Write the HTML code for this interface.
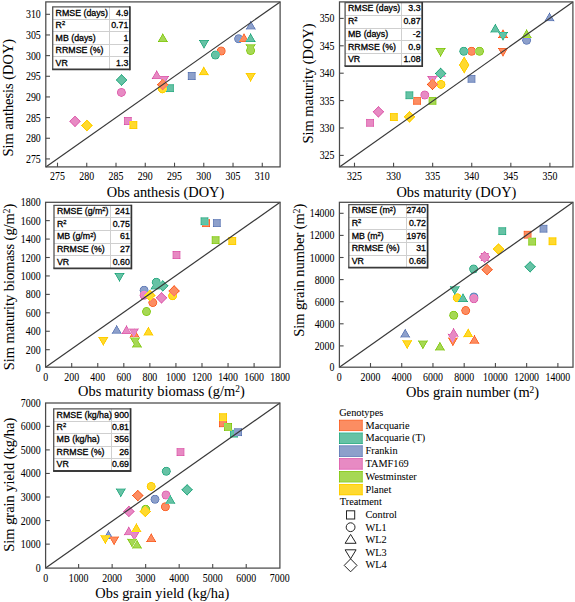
<!DOCTYPE html>
<html><head><meta charset="utf-8"><style>
html,body{margin:0;padding:0;background:#fff;}
svg{display:block;}
.tk{font-family:"Liberation Serif",serif;font-size:10.3px;fill:#000;stroke:#000;stroke-width:0.05px;}
.ti{font-family:"Liberation Serif",serif;font-size:14.4px;fill:#000;stroke:#000;stroke-width:0.05px;}
.tb{font-family:"Liberation Sans",sans-serif;font-size:8.8px;font-weight:normal;fill:#000;stroke:#000;stroke-width:0.3px;}
.lg{font-family:"Liberation Serif",serif;font-size:10.3px;fill:#000;stroke:#000;stroke-width:0.05px;}
</style></head><body>
<svg width="575" height="602" viewBox="0 0 575 602">
<defs><filter id="sh" x="0" y="0" width="575" height="602" filterUnits="userSpaceOnUse" color-interpolation-filters="sRGB"><feGaussianBlur stdDeviation="0.45" result="b"/><feConvolveMatrix in="b" order="3" kernelMatrix="0 -0.3 0 -0.3 2.200 -0.3 0 -0.3 0" edgeMode="duplicate" preserveAlpha="true"/></filter></defs>
<g filter="url(#sh)"><rect width="575" height="602" fill="#fff"/><rect x="165.90" y="84.20" width="8.00" height="8.00" fill="#66c2a5"/>
<rect x="187.70" y="72.00" width="8.00" height="8.00" fill="#8da0cb"/>
<rect x="123.80" y="117.00" width="8.00" height="8.00" fill="#e78ac3"/>
<rect x="129.40" y="121.10" width="8.00" height="8.00" fill="#ffd92f"/>
<circle cx="221.20" cy="51.00" r="4.5" fill="#fc8d62"/>
<circle cx="215.40" cy="55.00" r="4.5" fill="#66c2a5"/>
<circle cx="238.60" cy="38.80" r="4.5" fill="#8da0cb"/>
<circle cx="121.40" cy="92.40" r="4.5" fill="#e78ac3"/>
<circle cx="250.60" cy="50.50" r="4.5" fill="#a6d854"/>
<circle cx="162.40" cy="88.90" r="4.5" fill="#ffd92f"/>
<polygon points="244.00,32.90 249.20,41.90 238.80,41.90" fill="#fc8d62"/>
<polygon points="250.60,32.90 255.80,41.90 245.40,41.90" fill="#66c2a5"/>
<polygon points="250.80,20.50 256.00,29.50 245.60,29.50" fill="#8da0cb"/>
<polygon points="156.70,70.10 161.90,79.10 151.50,79.10" fill="#e78ac3"/>
<polygon points="162.80,33.00 168.00,42.00 157.60,42.00" fill="#a6d854"/>
<polygon points="203.80,66.20 209.00,75.20 198.60,75.20" fill="#ffd92f"/>
<polygon points="198.80,40.00 209.20,40.00 204.00,49.00" fill="#66c2a5"/>
<polygon points="158.80,76.00 169.20,76.00 164.00,85.00" fill="#e78ac3"/>
<polygon points="245.40,44.20 255.80,44.20 250.60,53.20" fill="#a6d854"/>
<polygon points="245.40,73.10 255.80,73.10 250.60,82.10" fill="#ffd92f"/>
<polygon points="162.70,78.80 168.60,84.70 162.70,90.60 156.80,84.70" fill="#fc8d62"/>
<polygon points="121.60,74.10 127.50,80.00 121.60,85.90 115.70,80.00" fill="#66c2a5"/>
<polygon points="75.00,115.40 80.90,121.30 75.00,127.20 69.10,121.30" fill="#e78ac3"/>
<polygon points="86.90,119.60 92.80,125.50 86.90,131.40 81.00,125.50" fill="#ffd92f"/>
<rect x="413.10" y="96.80" width="8.00" height="8.00" fill="#fc8d62"/>
<rect x="405.40" y="91.30" width="8.00" height="8.00" fill="#66c2a5"/>
<rect x="467.50" y="74.80" width="8.00" height="8.00" fill="#8da0cb"/>
<rect x="366.10" y="118.80" width="8.00" height="8.00" fill="#e78ac3"/>
<rect x="428.50" y="96.80" width="8.00" height="8.00" fill="#a6d854"/>
<rect x="389.80" y="113.10" width="8.00" height="8.00" fill="#ffd92f"/>
<circle cx="471.60" cy="51.20" r="4.5" fill="#fc8d62"/>
<circle cx="463.80" cy="51.20" r="4.5" fill="#66c2a5"/>
<circle cx="526.60" cy="40.30" r="4.5" fill="#8da0cb"/>
<circle cx="424.80" cy="95.00" r="4.5" fill="#e78ac3"/>
<circle cx="479.50" cy="51.20" r="4.5" fill="#a6d854"/>
<circle cx="441.00" cy="84.40" r="4.5" fill="#ffd92f"/>
<polygon points="503.00,29.00 508.20,38.00 497.80,38.00" fill="#fc8d62"/>
<polygon points="495.30,23.50 500.50,32.50 490.10,32.50" fill="#66c2a5"/>
<polygon points="549.50,12.20 554.70,21.20 544.30,21.20" fill="#8da0cb"/>
<polygon points="440.60,67.80 445.80,76.80 435.40,76.80" fill="#e78ac3"/>
<polygon points="526.60,29.00 531.80,38.00 521.40,38.00" fill="#a6d854"/>
<polygon points="497.80,48.10 508.20,48.10 503.00,57.10" fill="#fc8d62"/>
<polygon points="497.80,32.00 508.20,32.00 503.00,41.00" fill="#66c2a5"/>
<polygon points="427.10,76.00 437.50,76.00 432.30,85.00" fill="#e78ac3"/>
<polygon points="435.40,48.00 445.80,48.00 440.60,57.00" fill="#a6d854"/>
<polygon points="432.50,78.50 438.40,84.40 432.50,90.30 426.60,84.40" fill="#fc8d62"/>
<polygon points="440.60,67.50 446.50,73.40 440.60,79.30 434.70,73.40" fill="#66c2a5"/>
<polygon points="378.40,105.90 384.30,111.80 378.40,117.70 372.50,111.80" fill="#e78ac3"/>
<polygon points="409.50,110.90 415.40,116.80 409.50,122.70 403.60,116.80" fill="#ffd92f"/>
<polygon points="464.20,56.15 469.50,65.00 464.20,73.85 458.90,65.00" fill="#ffd92f"/>
<rect x="202.10" y="219.20" width="8.00" height="8.00" fill="#fc8d62"/>
<rect x="200.50" y="217.30" width="8.00" height="8.00" fill="#66c2a5"/>
<rect x="212.80" y="219.10" width="8.00" height="8.00" fill="#8da0cb"/>
<rect x="172.50" y="251.00" width="8.00" height="8.00" fill="#e78ac3"/>
<rect x="211.60" y="236.20" width="8.00" height="8.00" fill="#a6d854"/>
<rect x="228.30" y="237.00" width="8.00" height="8.00" fill="#ffd92f"/>
<circle cx="152.80" cy="302.60" r="4.5" fill="#fc8d62"/>
<circle cx="156.30" cy="282.20" r="4.5" fill="#66c2a5"/>
<circle cx="144.10" cy="290.20" r="4.5" fill="#8da0cb"/>
<circle cx="144.10" cy="295.20" r="4.5" fill="#e78ac3"/>
<circle cx="146.50" cy="311.60" r="4.5" fill="#a6d854"/>
<circle cx="172.60" cy="295.70" r="4.5" fill="#ffd92f"/>
<polygon points="134.50,328.50 139.70,337.50 129.30,337.50" fill="#fc8d62"/>
<polygon points="155.40,280.50 160.60,289.50 150.20,289.50" fill="#66c2a5"/>
<polygon points="116.70,324.80 121.90,333.80 111.50,333.80" fill="#8da0cb"/>
<polygon points="126.50,324.90 131.70,333.90 121.30,333.90" fill="#e78ac3"/>
<polygon points="137.00,338.50 142.20,347.50 131.80,347.50" fill="#a6d854"/>
<polygon points="148.40,326.50 153.60,335.50 143.20,335.50" fill="#ffd92f"/>
<polygon points="114.30,273.00 124.70,273.00 119.50,282.00" fill="#66c2a5"/>
<polygon points="128.60,328.50 139.00,328.50 133.80,337.50" fill="#e78ac3"/>
<polygon points="129.80,337.50 140.20,337.50 135.00,346.50" fill="#a6d854"/>
<polygon points="98.10,337.00 108.50,337.00 103.30,346.00" fill="#ffd92f"/>
<polygon points="174.10,285.00 180.00,290.90 174.10,296.80 168.20,290.90" fill="#fc8d62"/>
<polygon points="162.80,279.90 168.70,285.80 162.80,291.70 156.90,285.80" fill="#66c2a5"/>
<polygon points="161.50,291.90 167.40,297.80 161.50,303.70 155.60,297.80" fill="#e78ac3"/>
<polygon points="149.80,289.50 155.70,295.40 149.80,301.30 143.90,295.40" fill="#ffd92f"/>
<rect x="523.60" y="230.70" width="8.00" height="8.00" fill="#fc8d62"/>
<rect x="498.30" y="227.20" width="8.00" height="8.00" fill="#66c2a5"/>
<rect x="539.50" y="224.70" width="8.00" height="8.00" fill="#8da0cb"/>
<rect x="480.70" y="253.00" width="8.00" height="8.00" fill="#e78ac3"/>
<rect x="528.20" y="237.60" width="8.00" height="8.00" fill="#a6d854"/>
<rect x="548.50" y="237.30" width="8.00" height="8.00" fill="#ffd92f"/>
<circle cx="465.70" cy="310.60" r="4.5" fill="#fc8d62"/>
<circle cx="473.60" cy="269.00" r="4.5" fill="#66c2a5"/>
<circle cx="473.90" cy="297.00" r="4.5" fill="#8da0cb"/>
<circle cx="473.90" cy="298.70" r="4.5" fill="#e78ac3"/>
<circle cx="453.70" cy="315.20" r="4.5" fill="#a6d854"/>
<circle cx="457.20" cy="297.70" r="4.5" fill="#ffd92f"/>
<polygon points="474.40,334.70 479.60,343.70 469.20,343.70" fill="#fc8d62"/>
<polygon points="463.00,293.00 468.20,302.00 457.80,302.00" fill="#66c2a5"/>
<polygon points="405.20,328.50 410.40,337.50 400.00,337.50" fill="#8da0cb"/>
<polygon points="453.60,327.80 458.80,336.80 448.40,336.80" fill="#e78ac3"/>
<polygon points="439.90,341.50 445.10,350.50 434.70,350.50" fill="#a6d854"/>
<polygon points="468.20,328.20 473.40,337.20 463.00,337.20" fill="#ffd92f"/>
<polygon points="447.70,337.50 458.10,337.50 452.90,346.50" fill="#fc8d62"/>
<polygon points="449.60,286.20 460.00,286.20 454.80,295.20" fill="#66c2a5"/>
<polygon points="447.40,333.70 457.80,333.70 452.60,342.70" fill="#e78ac3"/>
<polygon points="417.70,340.50 428.10,340.50 422.90,349.50" fill="#a6d854"/>
<polygon points="402.00,340.20 412.40,340.20 407.20,349.20" fill="#ffd92f"/>
<polygon points="487.10,263.80 493.00,269.70 487.10,275.60 481.20,269.70" fill="#fc8d62"/>
<polygon points="530.10,260.90 536.00,266.80 530.10,272.70 524.20,266.80" fill="#66c2a5"/>
<polygon points="484.70,251.10 490.60,257.00 484.70,262.90 478.80,257.00" fill="#e78ac3"/>
<polygon points="498.50,243.20 504.40,249.10 498.50,255.00 492.60,249.10" fill="#ffd92f"/>
<rect x="219.00" y="419.30" width="8.00" height="8.00" fill="#fc8d62"/>
<rect x="229.90" y="429.60" width="8.00" height="8.00" fill="#66c2a5"/>
<rect x="234.10" y="428.20" width="8.00" height="8.00" fill="#8da0cb"/>
<rect x="176.50" y="448.10" width="8.00" height="8.00" fill="#e78ac3"/>
<rect x="224.00" y="422.90" width="8.00" height="8.00" fill="#a6d854"/>
<rect x="219.00" y="413.20" width="8.00" height="8.00" fill="#ffd92f"/>
<circle cx="165.40" cy="506.80" r="4.5" fill="#fc8d62"/>
<circle cx="166.30" cy="471.30" r="4.5" fill="#66c2a5"/>
<circle cx="155.00" cy="499.20" r="4.5" fill="#8da0cb"/>
<circle cx="166.00" cy="495.00" r="4.5" fill="#e78ac3"/>
<circle cx="145.70" cy="509.20" r="4.5" fill="#a6d854"/>
<circle cx="151.20" cy="486.40" r="4.5" fill="#ffd92f"/>
<polygon points="151.20,532.90 156.40,541.90 146.00,541.90" fill="#fc8d62"/>
<polygon points="170.30,494.70 175.50,503.70 165.10,503.70" fill="#66c2a5"/>
<polygon points="108.40,529.90 113.60,538.90 103.20,538.90" fill="#8da0cb"/>
<polygon points="128.80,526.20 134.00,535.20 123.60,535.20" fill="#e78ac3"/>
<polygon points="137.00,539.40 142.20,548.40 131.80,548.40" fill="#a6d854"/>
<polygon points="136.40,523.10 141.60,532.10 131.20,532.10" fill="#ffd92f"/>
<polygon points="108.90,536.50 119.30,536.50 114.10,545.50" fill="#fc8d62"/>
<polygon points="115.60,488.50 126.00,488.50 120.80,497.50" fill="#66c2a5"/>
<polygon points="129.10,531.90 139.50,531.90 134.30,540.90" fill="#e78ac3"/>
<polygon points="126.90,538.80 137.30,538.80 132.10,547.80" fill="#a6d854"/>
<polygon points="100.10,535.20 110.50,535.20 105.30,544.20" fill="#ffd92f"/>
<polygon points="137.80,489.70 143.70,495.60 137.80,501.50 131.90,495.60" fill="#fc8d62"/>
<polygon points="187.10,483.90 193.00,489.80 187.10,495.70 181.20,489.80" fill="#66c2a5"/>
<polygon points="128.90,505.50 134.80,511.40 128.90,517.30 123.00,511.40" fill="#e78ac3"/>
<polygon points="145.30,505.50 151.20,511.40 145.30,517.30 139.40,511.40" fill="#ffd92f"/>
<rect x="339" y="419.60" width="23.8" height="11.7" fill="#fc8d62"/>
<rect x="339" y="432.42" width="23.8" height="11.7" fill="#66c2a5"/>
<rect x="339" y="445.24" width="23.8" height="11.7" fill="#8da0cb"/>
<rect x="339" y="458.06" width="23.8" height="11.7" fill="#e78ac3"/>
<rect x="339" y="470.88" width="23.8" height="11.7" fill="#a6d854"/>
<rect x="339" y="483.70" width="23.8" height="11.7" fill="#ffd92f"/></g>
<line x1="45.8" y1="166.9" x2="280.1" y2="1.9" stroke="#383838" stroke-width="1.2"/>
<line x1="57.50" y1="166.9" x2="57.50" y2="162.70000000000002" stroke="#4a4a4a" stroke-width="1.1"/>
<text transform="translate(57.50,180.40) scale(0.96,1.15)" class="tk" text-anchor="middle">275</text>
<line x1="86.75" y1="166.9" x2="86.75" y2="162.70000000000002" stroke="#4a4a4a" stroke-width="1.1"/>
<text transform="translate(86.75,180.40) scale(0.96,1.15)" class="tk" text-anchor="middle">280</text>
<line x1="116.01" y1="166.9" x2="116.01" y2="162.70000000000002" stroke="#4a4a4a" stroke-width="1.1"/>
<text transform="translate(116.01,180.40) scale(0.96,1.15)" class="tk" text-anchor="middle">285</text>
<line x1="145.26" y1="166.9" x2="145.26" y2="162.70000000000002" stroke="#4a4a4a" stroke-width="1.1"/>
<text transform="translate(145.26,180.40) scale(0.96,1.15)" class="tk" text-anchor="middle">290</text>
<line x1="174.52" y1="166.9" x2="174.52" y2="162.70000000000002" stroke="#4a4a4a" stroke-width="1.1"/>
<text transform="translate(174.52,180.40) scale(0.96,1.15)" class="tk" text-anchor="middle">295</text>
<line x1="203.78" y1="166.9" x2="203.78" y2="162.70000000000002" stroke="#4a4a4a" stroke-width="1.1"/>
<text transform="translate(203.78,180.40) scale(0.96,1.15)" class="tk" text-anchor="middle">300</text>
<line x1="233.03" y1="166.9" x2="233.03" y2="162.70000000000002" stroke="#4a4a4a" stroke-width="1.1"/>
<text transform="translate(233.03,180.40) scale(0.96,1.15)" class="tk" text-anchor="middle">305</text>
<line x1="262.28" y1="166.9" x2="262.28" y2="162.70000000000002" stroke="#4a4a4a" stroke-width="1.1"/>
<text transform="translate(262.28,180.40) scale(0.96,1.15)" class="tk" text-anchor="middle">310</text>
<line x1="45.8" y1="158.92" x2="50.0" y2="158.92" stroke="#4a4a4a" stroke-width="1.1"/>
<text transform="translate(40.80,162.94) scale(0.96,1.15)" class="tk" text-anchor="end">275</text>
<line x1="45.8" y1="138.26" x2="50.0" y2="138.26" stroke="#4a4a4a" stroke-width="1.1"/>
<text transform="translate(40.80,142.28) scale(0.96,1.15)" class="tk" text-anchor="end">280</text>
<line x1="45.8" y1="117.60" x2="50.0" y2="117.60" stroke="#4a4a4a" stroke-width="1.1"/>
<text transform="translate(40.80,121.62) scale(0.96,1.15)" class="tk" text-anchor="end">285</text>
<line x1="45.8" y1="96.94" x2="50.0" y2="96.94" stroke="#4a4a4a" stroke-width="1.1"/>
<text transform="translate(40.80,100.96) scale(0.96,1.15)" class="tk" text-anchor="end">290</text>
<line x1="45.8" y1="76.28" x2="50.0" y2="76.28" stroke="#4a4a4a" stroke-width="1.1"/>
<text transform="translate(40.80,80.31) scale(0.96,1.15)" class="tk" text-anchor="end">295</text>
<line x1="45.8" y1="55.62" x2="50.0" y2="55.62" stroke="#4a4a4a" stroke-width="1.1"/>
<text transform="translate(40.80,59.64) scale(0.96,1.15)" class="tk" text-anchor="end">300</text>
<line x1="45.8" y1="34.96" x2="50.0" y2="34.96" stroke="#4a4a4a" stroke-width="1.1"/>
<text transform="translate(40.80,38.98) scale(0.96,1.15)" class="tk" text-anchor="end">305</text>
<line x1="45.8" y1="14.30" x2="50.0" y2="14.30" stroke="#4a4a4a" stroke-width="1.1"/>
<text transform="translate(40.80,18.32) scale(0.96,1.15)" class="tk" text-anchor="end">310</text>
<rect x="45.8" y="1.9" width="234.30" height="165.00" fill="none" stroke="#4a4a4a" stroke-width="1.25"/>
<rect x="52.70" y="6.80" width="77.20" height="62.60" fill="#fff"/>
<line x1="52.70" y1="19.50" x2="129.90" y2="19.50" stroke="#cfcfcf" stroke-width="1"/>
<line x1="52.70" y1="31.50" x2="129.90" y2="31.50" stroke="#cfcfcf" stroke-width="1"/>
<line x1="52.70" y1="44.50" x2="129.90" y2="44.50" stroke="#cfcfcf" stroke-width="1"/>
<line x1="52.70" y1="56.50" x2="129.90" y2="56.50" stroke="#cfcfcf" stroke-width="1"/>
<line x1="109.50" y1="6.80" x2="109.50" y2="69.40" stroke="#cfcfcf" stroke-width="1"/>
<line x1="52.20" y1="6.80" x2="129.90" y2="6.80" stroke="#555" stroke-width="1.2"/>
<line x1="52.70" y1="6.80" x2="52.70" y2="69.40" stroke="#555" stroke-width="1.3"/>
<line x1="129.90" y1="6.20" x2="129.90" y2="70.30" stroke="#333" stroke-width="1.7"/>
<line x1="52.10" y1="69.40" x2="129.90" y2="69.40" stroke="#3a3a3a" stroke-width="1.8"/>
<text x="55.60" y="15.56" class="tb">RMSE (days)</text>
<text x="128.30" y="15.56" class="tb" text-anchor="end">4.9</text>
<text x="55.60" y="28.08" class="tb">R<tspan dy="-2.8" font-size="5.8">2</tspan></text>
<text x="128.30" y="28.08" class="tb" text-anchor="end">0.71</text>
<text x="55.60" y="40.60" class="tb">MB (days)</text>
<text x="128.30" y="40.60" class="tb" text-anchor="end">1</text>
<text x="55.60" y="53.12" class="tb">RRMSE (%)</text>
<text x="128.30" y="53.12" class="tb" text-anchor="end">2</text>
<text x="55.60" y="65.64" class="tb">VR</text>
<text x="128.30" y="65.64" class="tb" text-anchor="end">1.3</text>
<text x="165.5" y="197.2" class="ti" text-anchor="middle">Obs anthesis (DOY)</text>
<text transform="translate(13.0,97.7) rotate(-90)" class="ti" text-anchor="middle">Sim anthesis (DOY)</text>
<line x1="339.5" y1="166.9" x2="572.9" y2="1.9" stroke="#383838" stroke-width="1.2"/>
<line x1="354.49" y1="166.9" x2="354.49" y2="162.70000000000002" stroke="#4a4a4a" stroke-width="1.1"/>
<text transform="translate(354.49,180.40) scale(0.96,1.15)" class="tk" text-anchor="middle">325</text>
<line x1="393.57" y1="166.9" x2="393.57" y2="162.70000000000002" stroke="#4a4a4a" stroke-width="1.1"/>
<text transform="translate(393.57,180.40) scale(0.96,1.15)" class="tk" text-anchor="middle">330</text>
<line x1="432.66" y1="166.9" x2="432.66" y2="162.70000000000002" stroke="#4a4a4a" stroke-width="1.1"/>
<text transform="translate(432.66,180.40) scale(0.96,1.15)" class="tk" text-anchor="middle">335</text>
<line x1="471.74" y1="166.9" x2="471.74" y2="162.70000000000002" stroke="#4a4a4a" stroke-width="1.1"/>
<text transform="translate(471.74,180.40) scale(0.96,1.15)" class="tk" text-anchor="middle">340</text>
<line x1="510.83" y1="166.9" x2="510.83" y2="162.70000000000002" stroke="#4a4a4a" stroke-width="1.1"/>
<text transform="translate(510.83,180.40) scale(0.96,1.15)" class="tk" text-anchor="middle">345</text>
<line x1="549.91" y1="166.9" x2="549.91" y2="162.70000000000002" stroke="#4a4a4a" stroke-width="1.1"/>
<text transform="translate(549.91,180.40) scale(0.96,1.15)" class="tk" text-anchor="middle">350</text>
<line x1="339.5" y1="155.40" x2="343.7" y2="155.40" stroke="#4a4a4a" stroke-width="1.1"/>
<text transform="translate(334.50,159.43) scale(0.96,1.15)" class="tk" text-anchor="end">325</text>
<line x1="339.5" y1="128.00" x2="343.7" y2="128.00" stroke="#4a4a4a" stroke-width="1.1"/>
<text transform="translate(334.50,132.03) scale(0.96,1.15)" class="tk" text-anchor="end">330</text>
<line x1="339.5" y1="100.60" x2="343.7" y2="100.60" stroke="#4a4a4a" stroke-width="1.1"/>
<text transform="translate(334.50,104.62) scale(0.96,1.15)" class="tk" text-anchor="end">335</text>
<line x1="339.5" y1="73.20" x2="343.7" y2="73.20" stroke="#4a4a4a" stroke-width="1.1"/>
<text transform="translate(334.50,77.23) scale(0.96,1.15)" class="tk" text-anchor="end">340</text>
<line x1="339.5" y1="45.80" x2="343.7" y2="45.80" stroke="#4a4a4a" stroke-width="1.1"/>
<text transform="translate(334.50,49.82) scale(0.96,1.15)" class="tk" text-anchor="end">345</text>
<line x1="339.5" y1="18.40" x2="343.7" y2="18.40" stroke="#4a4a4a" stroke-width="1.1"/>
<text transform="translate(334.50,22.42) scale(0.96,1.15)" class="tk" text-anchor="end">350</text>
<rect x="339.5" y="1.9" width="233.40" height="165.00" fill="none" stroke="#4a4a4a" stroke-width="1.25"/>
<rect x="345.10" y="2.60" width="77.10" height="63.50" fill="#fff"/>
<line x1="345.10" y1="15.50" x2="422.20" y2="15.50" stroke="#cfcfcf" stroke-width="1"/>
<line x1="345.10" y1="28.50" x2="422.20" y2="28.50" stroke="#cfcfcf" stroke-width="1"/>
<line x1="345.10" y1="40.50" x2="422.20" y2="40.50" stroke="#cfcfcf" stroke-width="1"/>
<line x1="345.10" y1="53.50" x2="422.20" y2="53.50" stroke="#cfcfcf" stroke-width="1"/>
<line x1="401.50" y1="2.60" x2="401.50" y2="66.10" stroke="#cfcfcf" stroke-width="1"/>
<line x1="344.60" y1="2.60" x2="422.20" y2="2.60" stroke="#555" stroke-width="1.2"/>
<line x1="345.10" y1="2.60" x2="345.10" y2="66.10" stroke="#555" stroke-width="1.3"/>
<line x1="422.20" y1="2.00" x2="422.20" y2="67.00" stroke="#333" stroke-width="1.7"/>
<line x1="344.50" y1="66.10" x2="422.20" y2="66.10" stroke="#3a3a3a" stroke-width="1.8"/>
<text x="348.00" y="11.45" class="tb">RMSE (days)</text>
<text x="420.60" y="11.45" class="tb" text-anchor="end">3.3</text>
<text x="348.00" y="24.15" class="tb">R<tspan dy="-2.8" font-size="5.8">2</tspan></text>
<text x="420.60" y="24.15" class="tb" text-anchor="end">0.87</text>
<text x="348.00" y="36.85" class="tb">MB (days)</text>
<text x="420.60" y="36.85" class="tb" text-anchor="end">-2</text>
<text x="348.00" y="49.55" class="tb">RRMSE (%)</text>
<text x="420.60" y="49.55" class="tb" text-anchor="end">0.9</text>
<text x="348.00" y="62.25" class="tb">VR</text>
<text x="420.60" y="62.25" class="tb" text-anchor="end">1.08</text>
<text x="456.4" y="197.4" class="ti" text-anchor="middle">Obs maturity (DOY)</text>
<text transform="translate(312.8,83.5) rotate(-90)" class="ti" text-anchor="middle">Sim maturity (DOY)</text>
<line x1="45.6" y1="367.2" x2="280.1" y2="202.3" stroke="#383838" stroke-width="1.2"/>
<text transform="translate(45.64,380.70) scale(0.96,1.15)" class="tk" text-anchor="middle">0</text>
<line x1="71.70" y1="367.2" x2="71.70" y2="363.0" stroke="#4a4a4a" stroke-width="1.1"/>
<text transform="translate(71.70,380.70) scale(0.96,1.15)" class="tk" text-anchor="middle">200</text>
<line x1="97.76" y1="367.2" x2="97.76" y2="363.0" stroke="#4a4a4a" stroke-width="1.1"/>
<text transform="translate(97.76,380.70) scale(0.96,1.15)" class="tk" text-anchor="middle">400</text>
<line x1="123.81" y1="367.2" x2="123.81" y2="363.0" stroke="#4a4a4a" stroke-width="1.1"/>
<text transform="translate(123.81,380.70) scale(0.96,1.15)" class="tk" text-anchor="middle">600</text>
<line x1="149.87" y1="367.2" x2="149.87" y2="363.0" stroke="#4a4a4a" stroke-width="1.1"/>
<text transform="translate(149.87,380.70) scale(0.96,1.15)" class="tk" text-anchor="middle">800</text>
<line x1="175.93" y1="367.2" x2="175.93" y2="363.0" stroke="#4a4a4a" stroke-width="1.1"/>
<text transform="translate(175.93,380.70) scale(0.96,1.15)" class="tk" text-anchor="middle">1000</text>
<line x1="201.99" y1="367.2" x2="201.99" y2="363.0" stroke="#4a4a4a" stroke-width="1.1"/>
<text transform="translate(201.99,380.70) scale(0.96,1.15)" class="tk" text-anchor="middle">1200</text>
<line x1="228.05" y1="367.2" x2="228.05" y2="363.0" stroke="#4a4a4a" stroke-width="1.1"/>
<text transform="translate(228.05,380.70) scale(0.96,1.15)" class="tk" text-anchor="middle">1400</text>
<line x1="254.10" y1="367.2" x2="254.10" y2="363.0" stroke="#4a4a4a" stroke-width="1.1"/>
<text transform="translate(254.10,380.70) scale(0.96,1.15)" class="tk" text-anchor="middle">1600</text>
<text transform="translate(280.16,380.70) scale(0.96,1.15)" class="tk" text-anchor="middle">1800</text>
<text transform="translate(40.60,371.62) scale(0.96,1.15)" class="tk" text-anchor="end">0</text>
<line x1="45.6" y1="349.70" x2="49.800000000000004" y2="349.70" stroke="#4a4a4a" stroke-width="1.1"/>
<text transform="translate(40.60,353.72) scale(0.96,1.15)" class="tk" text-anchor="end">200</text>
<line x1="45.6" y1="331.26" x2="49.800000000000004" y2="331.26" stroke="#4a4a4a" stroke-width="1.1"/>
<text transform="translate(40.60,335.28) scale(0.96,1.15)" class="tk" text-anchor="end">400</text>
<line x1="45.6" y1="312.82" x2="49.800000000000004" y2="312.82" stroke="#4a4a4a" stroke-width="1.1"/>
<text transform="translate(40.60,316.84) scale(0.96,1.15)" class="tk" text-anchor="end">600</text>
<line x1="45.6" y1="294.38" x2="49.800000000000004" y2="294.38" stroke="#4a4a4a" stroke-width="1.1"/>
<text transform="translate(40.60,298.40) scale(0.96,1.15)" class="tk" text-anchor="end">800</text>
<line x1="45.6" y1="275.94" x2="49.800000000000004" y2="275.94" stroke="#4a4a4a" stroke-width="1.1"/>
<text transform="translate(40.60,279.96) scale(0.96,1.15)" class="tk" text-anchor="end">1000</text>
<line x1="45.6" y1="257.50" x2="49.800000000000004" y2="257.50" stroke="#4a4a4a" stroke-width="1.1"/>
<text transform="translate(40.60,261.52) scale(0.96,1.15)" class="tk" text-anchor="end">1200</text>
<line x1="45.6" y1="239.06" x2="49.800000000000004" y2="239.06" stroke="#4a4a4a" stroke-width="1.1"/>
<text transform="translate(40.60,243.09) scale(0.96,1.15)" class="tk" text-anchor="end">1400</text>
<line x1="45.6" y1="220.62" x2="49.800000000000004" y2="220.62" stroke="#4a4a4a" stroke-width="1.1"/>
<text transform="translate(40.60,224.64) scale(0.96,1.15)" class="tk" text-anchor="end">1600</text>
<text transform="translate(40.60,206.20) scale(0.96,1.15)" class="tk" text-anchor="end">1800</text>
<rect x="45.6" y="202.3" width="234.50" height="164.90" fill="none" stroke="#4a4a4a" stroke-width="1.25"/>
<rect x="54.00" y="205.30" width="77.40" height="63.10" fill="#fff"/>
<line x1="54.00" y1="217.50" x2="131.40" y2="217.50" stroke="#cfcfcf" stroke-width="1"/>
<line x1="54.00" y1="230.50" x2="131.40" y2="230.50" stroke="#cfcfcf" stroke-width="1"/>
<line x1="54.00" y1="243.50" x2="131.40" y2="243.50" stroke="#cfcfcf" stroke-width="1"/>
<line x1="54.00" y1="255.50" x2="131.40" y2="255.50" stroke="#cfcfcf" stroke-width="1"/>
<line x1="110.50" y1="205.30" x2="110.50" y2="268.40" stroke="#cfcfcf" stroke-width="1"/>
<line x1="53.50" y1="205.30" x2="131.40" y2="205.30" stroke="#555" stroke-width="1.2"/>
<line x1="54.00" y1="205.30" x2="54.00" y2="268.40" stroke="#555" stroke-width="1.3"/>
<line x1="131.40" y1="204.70" x2="131.40" y2="269.30" stroke="#333" stroke-width="1.7"/>
<line x1="53.40" y1="268.40" x2="131.40" y2="268.40" stroke="#3a3a3a" stroke-width="1.8"/>
<text x="56.90" y="214.11" class="tb">RMSE (g/m<tspan dy="-2.8" font-size="5.8">2</tspan><tspan dy="2.8">)</tspan></text>
<text x="129.80" y="214.11" class="tb" text-anchor="end">241</text>
<text x="56.90" y="226.73" class="tb">R<tspan dy="-2.8" font-size="5.8">2</tspan></text>
<text x="129.80" y="226.73" class="tb" text-anchor="end">0.75</text>
<text x="56.90" y="239.35" class="tb">MB (g/m<tspan dy="-2.8" font-size="5.8">2</tspan><tspan dy="2.8">)</tspan></text>
<text x="129.80" y="239.35" class="tb" text-anchor="end">61</text>
<text x="56.90" y="251.97" class="tb">RRMSE (%)</text>
<text x="129.80" y="251.97" class="tb" text-anchor="end">27</text>
<text x="56.90" y="264.59" class="tb">VR</text>
<text x="129.80" y="264.59" class="tb" text-anchor="end">0.60</text>
<text x="161.4" y="396.4" class="ti" text-anchor="middle">Obs maturity biomass (g/m<tspan dy="-4" font-size="9.4">2</tspan><tspan dy="4">)</tspan></text>
<text transform="translate(13.5,287.0) rotate(-90)" class="ti" text-anchor="middle">Sim maturity biomass (g/m<tspan dy="-4" font-size="9.4">2</tspan><tspan dy="4">)</tspan></text>
<line x1="339.4" y1="367.2" x2="573.0" y2="202.3" stroke="#383838" stroke-width="1.2"/>
<text transform="translate(339.27,380.70) scale(0.96,1.15)" class="tk" text-anchor="middle">0</text>
<line x1="370.50" y1="367.2" x2="370.50" y2="363.0" stroke="#4a4a4a" stroke-width="1.1"/>
<text transform="translate(370.50,380.70) scale(0.96,1.15)" class="tk" text-anchor="middle">2000</text>
<line x1="401.73" y1="367.2" x2="401.73" y2="363.0" stroke="#4a4a4a" stroke-width="1.1"/>
<text transform="translate(401.73,380.70) scale(0.96,1.15)" class="tk" text-anchor="middle">4000</text>
<line x1="432.96" y1="367.2" x2="432.96" y2="363.0" stroke="#4a4a4a" stroke-width="1.1"/>
<text transform="translate(432.96,380.70) scale(0.96,1.15)" class="tk" text-anchor="middle">6000</text>
<line x1="464.19" y1="367.2" x2="464.19" y2="363.0" stroke="#4a4a4a" stroke-width="1.1"/>
<text transform="translate(464.19,380.70) scale(0.96,1.15)" class="tk" text-anchor="middle">8000</text>
<line x1="495.42" y1="367.2" x2="495.42" y2="363.0" stroke="#4a4a4a" stroke-width="1.1"/>
<text transform="translate(495.42,380.70) scale(0.96,1.15)" class="tk" text-anchor="middle">10000</text>
<line x1="526.65" y1="367.2" x2="526.65" y2="363.0" stroke="#4a4a4a" stroke-width="1.1"/>
<text transform="translate(526.65,380.70) scale(0.96,1.15)" class="tk" text-anchor="middle">12000</text>
<line x1="557.88" y1="367.2" x2="557.88" y2="363.0" stroke="#4a4a4a" stroke-width="1.1"/>
<text transform="translate(557.88,380.70) scale(0.96,1.15)" class="tk" text-anchor="middle">14000</text>
<text transform="translate(334.40,371.42) scale(0.96,1.15)" class="tk" text-anchor="end">0</text>
<line x1="339.4" y1="345.90" x2="343.59999999999997" y2="345.90" stroke="#4a4a4a" stroke-width="1.1"/>
<text transform="translate(334.40,349.92) scale(0.96,1.15)" class="tk" text-anchor="end">2000</text>
<line x1="339.4" y1="323.80" x2="343.59999999999997" y2="323.80" stroke="#4a4a4a" stroke-width="1.1"/>
<text transform="translate(334.40,327.82) scale(0.96,1.15)" class="tk" text-anchor="end">4000</text>
<line x1="339.4" y1="301.70" x2="343.59999999999997" y2="301.70" stroke="#4a4a4a" stroke-width="1.1"/>
<text transform="translate(334.40,305.72) scale(0.96,1.15)" class="tk" text-anchor="end">6000</text>
<line x1="339.4" y1="279.60" x2="343.59999999999997" y2="279.60" stroke="#4a4a4a" stroke-width="1.1"/>
<text transform="translate(334.40,283.62) scale(0.96,1.15)" class="tk" text-anchor="end">8000</text>
<line x1="339.4" y1="257.50" x2="343.59999999999997" y2="257.50" stroke="#4a4a4a" stroke-width="1.1"/>
<text transform="translate(334.40,261.52) scale(0.96,1.15)" class="tk" text-anchor="end">10000</text>
<line x1="339.4" y1="235.40" x2="343.59999999999997" y2="235.40" stroke="#4a4a4a" stroke-width="1.1"/>
<text transform="translate(334.40,239.42) scale(0.96,1.15)" class="tk" text-anchor="end">12000</text>
<line x1="339.4" y1="213.30" x2="343.59999999999997" y2="213.30" stroke="#4a4a4a" stroke-width="1.1"/>
<text transform="translate(334.40,217.32) scale(0.96,1.15)" class="tk" text-anchor="end">14000</text>
<rect x="339.4" y="202.3" width="233.60" height="164.90" fill="none" stroke="#4a4a4a" stroke-width="1.25"/>
<rect x="348.80" y="204.60" width="78.80" height="63.00" fill="#fff"/>
<line x1="348.80" y1="217.50" x2="427.60" y2="217.50" stroke="#cfcfcf" stroke-width="1"/>
<line x1="348.80" y1="229.50" x2="427.60" y2="229.50" stroke="#cfcfcf" stroke-width="1"/>
<line x1="348.80" y1="242.50" x2="427.60" y2="242.50" stroke="#cfcfcf" stroke-width="1"/>
<line x1="348.80" y1="255.50" x2="427.60" y2="255.50" stroke="#cfcfcf" stroke-width="1"/>
<line x1="406.50" y1="204.60" x2="406.50" y2="267.60" stroke="#cfcfcf" stroke-width="1"/>
<line x1="348.30" y1="204.60" x2="427.60" y2="204.60" stroke="#555" stroke-width="1.2"/>
<line x1="348.80" y1="204.60" x2="348.80" y2="267.60" stroke="#555" stroke-width="1.3"/>
<line x1="427.60" y1="204.00" x2="427.60" y2="268.50" stroke="#333" stroke-width="1.7"/>
<line x1="348.20" y1="267.60" x2="427.60" y2="267.60" stroke="#3a3a3a" stroke-width="1.8"/>
<text x="351.70" y="213.40" class="tb">RMSE (m<tspan dy="-2.8" font-size="5.8">2</tspan><tspan dy="2.8">)</tspan></text>
<text x="426.00" y="213.40" class="tb" text-anchor="end">2740</text>
<text x="351.70" y="226.00" class="tb">R<tspan dy="-2.8" font-size="5.8">2</tspan></text>
<text x="426.00" y="226.00" class="tb" text-anchor="end">0.72</text>
<text x="351.70" y="238.60" class="tb">MB (m<tspan dy="-2.8" font-size="5.8">2</tspan><tspan dy="2.8">)</tspan></text>
<text x="426.00" y="238.60" class="tb" text-anchor="end">1976</text>
<text x="351.70" y="251.20" class="tb">RRMSE (%)</text>
<text x="426.00" y="251.20" class="tb" text-anchor="end">31</text>
<text x="351.70" y="263.80" class="tb">VR</text>
<text x="426.00" y="263.80" class="tb" text-anchor="end">0.66</text>
<text x="472.6" y="397.2" class="ti" text-anchor="middle">Obs grain number (m<tspan dy="-4" font-size="9.4">2</tspan><tspan dy="4">)</tspan></text>
<text transform="translate(303.5,270.2) rotate(-90)" class="ti" text-anchor="middle">Sim grain number (m<tspan dy="-4" font-size="9.4">2</tspan><tspan dy="4">)</tspan></text>
<line x1="45.6" y1="568.1" x2="279.9" y2="403.0" stroke="#383838" stroke-width="1.2"/>
<text transform="translate(45.60,581.60) scale(0.96,1.15)" class="tk" text-anchor="middle">0</text>
<line x1="78.62" y1="568.1" x2="78.62" y2="563.9" stroke="#4a4a4a" stroke-width="1.1"/>
<text transform="translate(78.62,581.60) scale(0.96,1.15)" class="tk" text-anchor="middle">1000</text>
<line x1="112.14" y1="568.1" x2="112.14" y2="563.9" stroke="#4a4a4a" stroke-width="1.1"/>
<text transform="translate(112.14,581.60) scale(0.96,1.15)" class="tk" text-anchor="middle">2000</text>
<line x1="145.66" y1="568.1" x2="145.66" y2="563.9" stroke="#4a4a4a" stroke-width="1.1"/>
<text transform="translate(145.66,581.60) scale(0.96,1.15)" class="tk" text-anchor="middle">3000</text>
<line x1="179.18" y1="568.1" x2="179.18" y2="563.9" stroke="#4a4a4a" stroke-width="1.1"/>
<text transform="translate(179.18,581.60) scale(0.96,1.15)" class="tk" text-anchor="middle">4000</text>
<line x1="212.70" y1="568.1" x2="212.70" y2="563.9" stroke="#4a4a4a" stroke-width="1.1"/>
<text transform="translate(212.70,581.60) scale(0.96,1.15)" class="tk" text-anchor="middle">5000</text>
<line x1="246.22" y1="568.1" x2="246.22" y2="563.9" stroke="#4a4a4a" stroke-width="1.1"/>
<text transform="translate(246.22,581.60) scale(0.96,1.15)" class="tk" text-anchor="middle">6000</text>
<text transform="translate(279.74,581.60) scale(0.96,1.15)" class="tk" text-anchor="middle">7000</text>
<text transform="translate(40.60,571.73) scale(0.96,1.15)" class="tk" text-anchor="end">0</text>
<line x1="45.6" y1="544.14" x2="49.800000000000004" y2="544.14" stroke="#4a4a4a" stroke-width="1.1"/>
<text transform="translate(40.60,548.17) scale(0.96,1.15)" class="tk" text-anchor="end">1000</text>
<line x1="45.6" y1="520.58" x2="49.800000000000004" y2="520.58" stroke="#4a4a4a" stroke-width="1.1"/>
<text transform="translate(40.60,524.61) scale(0.96,1.15)" class="tk" text-anchor="end">2000</text>
<line x1="45.6" y1="497.02" x2="49.800000000000004" y2="497.02" stroke="#4a4a4a" stroke-width="1.1"/>
<text transform="translate(40.60,501.05) scale(0.96,1.15)" class="tk" text-anchor="end">3000</text>
<line x1="45.6" y1="473.46" x2="49.800000000000004" y2="473.46" stroke="#4a4a4a" stroke-width="1.1"/>
<text transform="translate(40.60,477.49) scale(0.96,1.15)" class="tk" text-anchor="end">4000</text>
<line x1="45.6" y1="449.90" x2="49.800000000000004" y2="449.90" stroke="#4a4a4a" stroke-width="1.1"/>
<text transform="translate(40.60,453.93) scale(0.96,1.15)" class="tk" text-anchor="end">5000</text>
<line x1="45.6" y1="426.34" x2="49.800000000000004" y2="426.34" stroke="#4a4a4a" stroke-width="1.1"/>
<text transform="translate(40.60,430.37) scale(0.96,1.15)" class="tk" text-anchor="end">6000</text>
<text transform="translate(40.60,406.81) scale(0.96,1.15)" class="tk" text-anchor="end">7000</text>
<rect x="45.6" y="403.0" width="234.30" height="165.10" fill="none" stroke="#4a4a4a" stroke-width="1.25"/>
<rect x="53.70" y="408.80" width="76.90" height="62.20" fill="#fff"/>
<line x1="53.70" y1="421.50" x2="130.60" y2="421.50" stroke="#cfcfcf" stroke-width="1"/>
<line x1="53.70" y1="433.50" x2="130.60" y2="433.50" stroke="#cfcfcf" stroke-width="1"/>
<line x1="53.70" y1="446.50" x2="130.60" y2="446.50" stroke="#cfcfcf" stroke-width="1"/>
<line x1="53.70" y1="458.50" x2="130.60" y2="458.50" stroke="#cfcfcf" stroke-width="1"/>
<line x1="111.50" y1="408.80" x2="111.50" y2="471.00" stroke="#cfcfcf" stroke-width="1"/>
<line x1="53.20" y1="408.80" x2="130.60" y2="408.80" stroke="#555" stroke-width="1.2"/>
<line x1="53.70" y1="408.80" x2="53.70" y2="471.00" stroke="#555" stroke-width="1.3"/>
<line x1="130.60" y1="408.20" x2="130.60" y2="471.90" stroke="#333" stroke-width="1.7"/>
<line x1="53.10" y1="471.00" x2="130.60" y2="471.00" stroke="#3a3a3a" stroke-width="1.8"/>
<text x="56.60" y="417.52" class="tb">RMSE (kg/ha)</text>
<text x="129.00" y="417.52" class="tb" text-anchor="end">900</text>
<text x="56.60" y="429.96" class="tb">R<tspan dy="-2.8" font-size="5.8">2</tspan></text>
<text x="129.00" y="429.96" class="tb" text-anchor="end">0.81</text>
<text x="56.60" y="442.40" class="tb">MB (kg/ha)</text>
<text x="129.00" y="442.40" class="tb" text-anchor="end">356</text>
<text x="56.60" y="454.84" class="tb">RRMSE (%)</text>
<text x="129.00" y="454.84" class="tb" text-anchor="end">26</text>
<text x="56.60" y="467.28" class="tb">VR</text>
<text x="129.00" y="467.28" class="tb" text-anchor="end">0.69</text>
<text x="162.3" y="597.5" class="ti" text-anchor="middle">Obs grain yield (kg/ha)</text>
<text transform="translate(14.0,484.7) rotate(-90)" class="ti" text-anchor="middle">Sim grain yield (kg/ha)</text>
<text x="339.2" y="416.0" class="lg">Genotypes</text>
<text x="365.5" y="428.50" class="lg">Macquarie</text>
<text x="365.5" y="441.32" class="lg">Macquarie (T)</text>
<text x="365.5" y="454.14" class="lg">Frankin</text>
<text x="365.5" y="466.96" class="lg">TAMF169</text>
<text x="365.5" y="479.78" class="lg">Westminster</text>
<text x="365.5" y="492.60" class="lg">Planet</text>
<text x="339.8" y="505.0" class="lg">Treatment</text>
<rect x="346.5" y="510.79999999999995" width="8.2" height="8.2" fill="none" stroke="#222" stroke-width="1"/>
<circle cx="350.6" cy="527.2" r="4.4" fill="none" stroke="#222" stroke-width="1"/>
<polygon points="350.6,534.4 356.1,543.3 345.1,543.3" fill="none" stroke="#222" stroke-width="1"/>
<polygon points="345.1,549.8 356.1,549.8 350.6,558.8" fill="none" stroke="#222" stroke-width="1"/>
<polygon points="350.6,558.9 357.0,565.4 350.6,571.8 344.20000000000005,565.4" fill="none" stroke="#222" stroke-width="1"/>
<text x="365.5" y="517.8" class="lg">Control</text>
<text x="365.5" y="530.6" class="lg">WL1</text>
<text x="365.5" y="543.2" class="lg">WL2</text>
<text x="365.5" y="555.9" class="lg">WL3</text>
<text x="365.5" y="568.4" class="lg">WL4</text>
</svg>
</body></html>
